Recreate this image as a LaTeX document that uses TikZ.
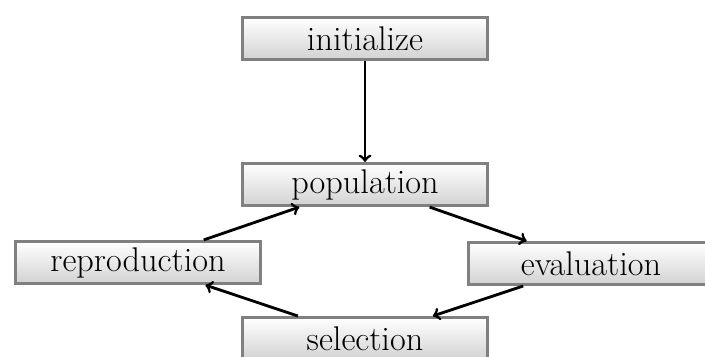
\documentclass[tikz,border=0pt]{standalone}
\usetikzlibrary{shadings}
\tikzset{
  stagebox/.style={draw=gray, line width=1.7pt, top color=white, bottom color=gray!35,
    minimum width=4.9cm, minimum height=0.84cm, font=\fontsize{19.5}{23}\selectfont},
  cyclearrow/.style={->, line width=1.6pt}
}
\begin{document}
\begin{tikzpicture}
  \useasboundingbox (0,0) rectangle (14.1,-7.12);
  \node[stagebox] (init) at (7.3,-0.77) {initialize};
  \node[stagebox] (pop)  at (7.3,-3.69) {population};
  \node[stagebox] (repr) at (2.76,-5.25) {reproduction};
  \node[stagebox] (eval) at (11.82,-5.27) {evaluation};
  \node[stagebox] (sel)  at (7.3,-6.77) {selection};

  \draw[cyclearrow] (init) -- (pop);
  \draw[cyclearrow] (pop) -- (eval);
  \draw[cyclearrow] (eval) -- (sel);
  \draw[cyclearrow] (sel) -- (repr);
  \draw[cyclearrow] (repr) -- (pop);
\end{tikzpicture}
\end{document}
